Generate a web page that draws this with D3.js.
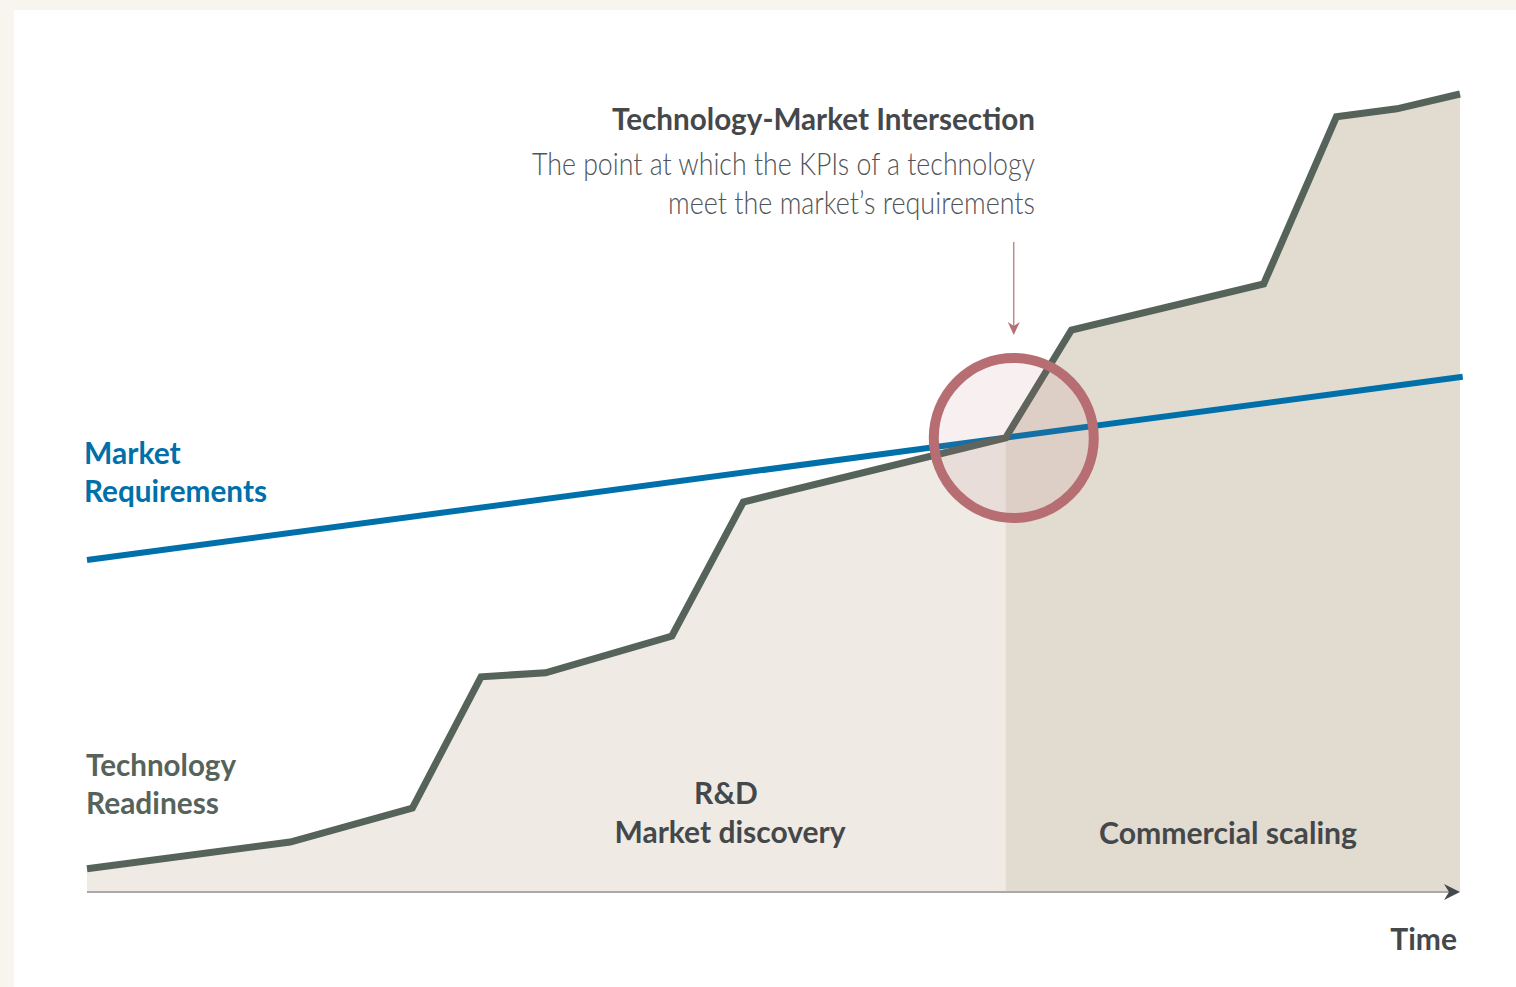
<!DOCTYPE html>
<html><head><meta charset="utf-8">
<script src="https://cdn.jsdelivr.net/npm/d3@7"></script>
<style>html,body{margin:0;padding:0;background:#f8f5ee;}svg{display:block;}</style>
</head><body>
<svg id="chart" width="1516" height="987"></svg>
<script>
// Data (time 0..100, readiness 0..100)
const techX = [0, 14.8, 23.7, 28.7, 33.4, 42.6, 47.8, 66.9, 71.7, 85.7, 91.0, 95.4, 100];
const techY = [2.9, 6.25, 10.5, 26.9, 27.4, 32, 48.75, 56.75, 70.25, 76, 96.9, 97.9, 99.75];
const marketX = [0, 100.2];
const marketY = [41.5, 64.4];
const phaseBreaks = [0, 66.9, 100];
const phaseLabels = [["R&D", "Market discovery"], ["Commercial scaling"]];
const intersection = {x: 67.5, y: 56.75};

const svg = d3.select("#chart");
svg.append("rect").attr("x",14).attr("y",10).attr("width",1502).attr("height",977).attr("fill","#ffffff");

const x = d3.scaleLinear().domain([0,100]).range([87,1460]);
const y = d3.scaleLinear().domain([0,100]).range([892,92]);

const tech = techX.map((v,i)=>({x:v,y:techY[i]}));
const phaseFills = ["#efebe4","#e2dbcf"];
phaseBreaks.slice(0,-1).forEach((b,i)=>{
  const id = "clip"+i;
  svg.append("clipPath").attr("id",id).append("rect")
    .attr("x",x(b)).attr("y",0).attr("width",x(phaseBreaks[i+1])-x(b)).attr("height",y(0));
  svg.append("path").datum(tech)
    .attr("clip-path",`url(#${id})`)
    .attr("fill",phaseFills[i])
    .attr("d",d3.area().x(d=>x(d.x)).y0(y(0)).y1(d=>y(d.y)));
});

// axis line
svg.append("line").attr("x1",x(0)).attr("x2",x(100)-6).attr("y1",y(0)).attr("y2",y(0))
  .attr("stroke","#a9a9a9").attr("stroke-width",2);
svg.append("path").attr("d",`M${x(100)-16},${y(0)-8} L${x(100)},${y(0)} L${x(100)-16},${y(0)+8} L${x(100)-11},${y(0)} Z`)
  .attr("fill","#45484b");

// market line
svg.append("path").datum(marketX.map((v,i)=>({x:v,y:marketY[i]})))
  .attr("fill","none").attr("stroke","#0070aa").attr("stroke-width",6)
  .attr("d",d3.line().x(d=>x(d.x)).y(d=>y(d.y)));

// tech line
svg.append("path").datum(tech)
  .attr("fill","none").attr("stroke","#56635a").attr("stroke-width",7).attr("stroke-linejoin","miter")
  .attr("d",d3.line().x(d=>x(d.x)).y(d=>y(d.y)));

// circle
svg.append("circle").attr("cx",x(intersection.x)).attr("cy",y(intersection.y)).attr("r",80)
  .attr("fill","rgba(183,110,114,0.11)").attr("stroke","#b76e72").attr("stroke-width",10);

// arrow
const ax = x(intersection.x);
svg.append("line").attr("x1",ax).attr("x2",ax).attr("y1",242).attr("y2",330)
  .attr("stroke","#b76e72").attr("stroke-width",1.2);
svg.append("path").attr("d",`M${ax-6},${322} L${ax},${335} L${ax+6},${322} L${ax},${326} Z`).attr("fill","#b76e72");

const font = "Lato, 'Open Sans', sans-serif";
function txt(t, px, py, opts){
  const el = svg.append("text").attr("x",px).attr("y",py).text(t)
    .attr("font-family",font).attr("font-size",opts.size||30)
    .attr("font-weight",opts.weight||700).attr("fill",opts.fill||"#45484b")
    .attr("text-anchor",opts.anchor||"start");
  if (opts.len) el.attr("textLength",opts.len).attr("lengthAdjust","spacingAndGlyphs");
  return el;
}
txt("Technology-Market Intersection", 1035, 130, {anchor:"end", len:423});
txt("The point at which the KPIs of a technology", 1035, 175, {anchor:"end", weight:300, fill:"#505357", size:31, len:503});
txt("meet the market’s requirements", 1035, 214, {anchor:"end", weight:300, fill:"#505357", size:31, len:367});

txt("Market", 84, 464, {fill:"#0070aa"});
txt("Requirements", 84, 502, {fill:"#0070aa", len:183});
txt("Technology", 86, 776, {fill:"#56635a", len:150});
txt("Readiness", 86, 814, {fill:"#56635a", len:133});

txt(phaseLabels[0][0], 726, 804, {anchor:"middle"});
txt(phaseLabels[0][1], 730, 843, {anchor:"middle", len:231});
txt(phaseLabels[1][0], 1228, 844, {anchor:"middle", len:258});
txt("Time", 1457, 950, {anchor:"end"});
</script>
</body></html>
